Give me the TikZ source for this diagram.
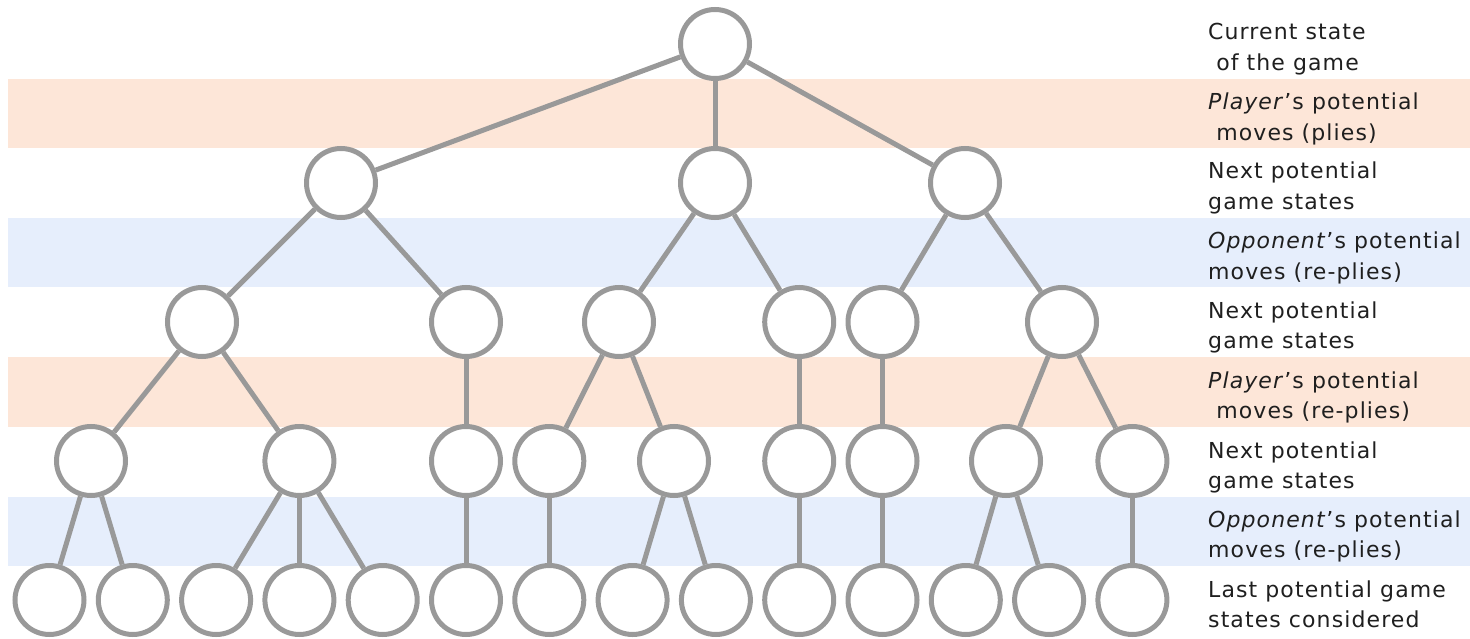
\documentclass[tikz,border=0pt]{standalone}
\usepackage{fontspec}
\setmainfont{DejaVu Sans}[LetterSpace=5]
\definecolor{bandorange}{RGB}{253,230,216}
\definecolor{bandblue}{RGB}{230,238,252}
\definecolor{linegray}{RGB}{153,153,153}
\tikzset{
  state/.style={circle, draw=linegray, line width=5pt, fill=white, minimum size=69pt, inner sep=0pt},
  edge/.style={draw=linegray, line width=5pt},
  lbl/.style={anchor=base west, align=left, inner sep=0pt, text=black!88, font=\fontsize{22}{30.5}\selectfont},
}
\begin{document}
\begin{tikzpicture}[x=1pt,y=-1pt]
\useasboundingbox (0,0) rectangle (1470,639);
% bands
\fill[bandorange] (8,79) rectangle (1470,148);
\fill[bandblue] (8,218) rectangle (1470,287);
\fill[bandorange] (8,357) rectangle (1470,427);
\fill[bandblue] (8,497) rectangle (1470,566);
% level 0
\node[state] (r) at (715,44) {};
% level 1
\node[state] (a) at (341,183) {};
\node[state] (b) at (715,183) {};
\node[state] (c) at (965,183) {};
% level 2
\node[state] (a1) at (202,322) {};
\node[state] (a2) at (466,322) {};
\node[state] (b1) at (619,322) {};
\node[state] (b2) at (799.2,322) {};
\node[state] (c1) at (882.5,322) {};
\node[state] (c2) at (1062,322) {};
% level 3
\node[state] (a11) at (91,461) {};
\node[state] (a12) at (299.4,461) {};
\node[state] (a21) at (466,461) {};
\node[state] (b11) at (549.3,461) {};
\node[state] (b12) at (674,461) {};
\node[state] (b21) at (799.2,461) {};
\node[state] (c11) at (882.5,461) {};
\node[state] (c21) at (1006,461) {};
\node[state] (c22) at (1132.4,461) {};
% level 4
\node[state] (d1) at (49.5,600) {};
\node[state] (d2) at (132.8,600) {};
\node[state] (d3) at (216.1,600) {};
\node[state] (d4) at (299.4,600) {};
\node[state] (d5) at (382.7,600) {};
\node[state] (d6) at (466,600) {};
\node[state] (d7) at (549.3,600) {};
\node[state] (d8) at (632.6,600) {};
\node[state] (d9) at (715.9,600) {};
\node[state] (d10) at (799.2,600) {};
\node[state] (d11) at (882.5,600) {};
\node[state] (d12) at (965.8,600) {};
\node[state] (d13) at (1049.1,600) {};
\node[state] (d14) at (1132.4,600) {};
% edges
\draw[edge] (r) -- (a);
\draw[edge] (r) -- (b);
\draw[edge] (r) -- (c);
\draw[edge] (a) -- (a1);
\draw[edge] (a) -- (a2);
\draw[edge] (b) -- (b1);
\draw[edge] (b) -- (b2);
\draw[edge] (c) -- (c1);
\draw[edge] (c) -- (c2);
\draw[edge] (a1) -- (a11);
\draw[edge] (a1) -- (a12);
\draw[edge] (a2) -- (a21);
\draw[edge] (b1) -- (b11);
\draw[edge] (b1) -- (b12);
\draw[edge] (b2) -- (b21);
\draw[edge] (c1) -- (c11);
\draw[edge] (c2) -- (c21);
\draw[edge] (c2) -- (c22);
\draw[edge] (a11) -- (d1);
\draw[edge] (a11) -- (d2);
\draw[edge] (a12) -- (d3);
\draw[edge] (a12) -- (d4);
\draw[edge] (a12) -- (d5);
\draw[edge] (a21) -- (d6);
\draw[edge] (b11) -- (d7);
\draw[edge] (b12) -- (d8);
\draw[edge] (b12) -- (d9);
\draw[edge] (b21) -- (d10);
\draw[edge] (c11) -- (d11);
\draw[edge] (c21) -- (d12);
\draw[edge] (c21) -- (d13);
\draw[edge] (c22) -- (d14);
% labels (anchored at the baseline of the second line)
\node[lbl] (t0) at (1208,70.5) {Current state\\\ of the game};
\node[lbl] (t1) at (1208,140.5) {\textit{Player}’s potential\\\ moves (plies)};
\node[lbl] (t2) at (1208,209.5) {Next potential\\game states};
\node[lbl] (t3) at (1208,279.5) {\textit{Opponent}’s potential\\moves (re-plies)};
\node[lbl] (t4) at (1208,348.5) {Next potential\\game states};
\node[lbl] (t5) at (1208,418.5) {\textit{Player}’s potential\\\ moves (re-plies)};
\node[lbl] (t6) at (1208,488.5) {Next potential\\game states};
\node[lbl] (t7) at (1208,557.5) {\textit{Opponent}’s potential\\moves (re-plies)};
\node[lbl] (t8) at (1208,627.5) {Last potential game\\states considered};
\end{tikzpicture}
\end{document}
